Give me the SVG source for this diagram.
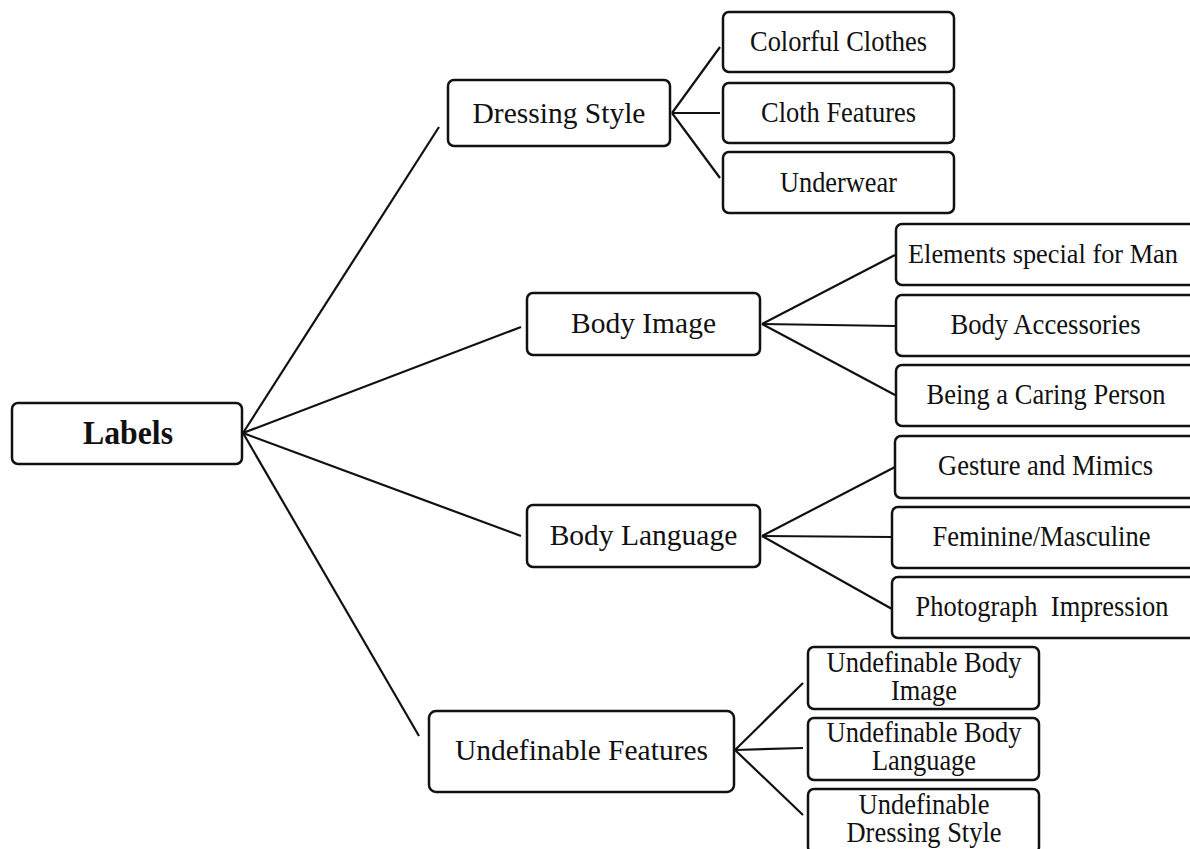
<svg xmlns="http://www.w3.org/2000/svg" width="1190" height="849" viewBox="0 0 1190 849">
<style>
.box{fill:#fff;stroke:#111;stroke-width:2.5}
.ln{stroke:#111;stroke-width:2.2;fill:none}
.t{font-family:"Liberation Serif","Times New Roman",serif;fill:#111;text-anchor:middle}
.p{font-size:29.5px}
.l{font-size:28.5px}
.root{font-size:34px;font-weight:bold}
</style>
<rect width="1190" height="849" fill="#fff"/>
<g id="connectors">
<line class="ln" x1="243" y1="433" x2="439" y2="127"/>
<line class="ln" x1="243" y1="433" x2="521" y2="327"/>
<line class="ln" x1="243" y1="433" x2="521" y2="536"/>
<line class="ln" x1="243" y1="433" x2="419" y2="736"/>
<line class="ln" x1="672" y1="113" x2="720" y2="47"/>
<line class="ln" x1="672" y1="113" x2="720" y2="113"/>
<line class="ln" x1="672" y1="113" x2="720" y2="178"/>
<line class="ln" x1="762" y1="324" x2="895" y2="255"/>
<line class="ln" x1="762" y1="324" x2="895" y2="326"/>
<line class="ln" x1="762" y1="324" x2="895" y2="395"/>
<line class="ln" x1="762" y1="536" x2="895" y2="467"/>
<line class="ln" x1="762" y1="536" x2="892" y2="537"/>
<line class="ln" x1="762" y1="536" x2="892" y2="609"/>
<line class="ln" x1="735" y1="750" x2="803" y2="683"/>
<line class="ln" x1="735" y1="750" x2="803" y2="748"/>
<line class="ln" x1="735" y1="750" x2="803" y2="815"/>
</g>
<g id="labels"><rect class="box" x="12" y="403" width="230" height="61" rx="6"/><text class="t root" x="128" y="444" textLength="90" lengthAdjust="spacingAndGlyphs">Labels</text></g>
<g id="dressing-style"><rect class="box" x="448" y="80" width="222" height="66" rx="6"/><text class="t p" x="559" y="122.5">Dressing Style</text></g>
<g id="colorful-clothes"><rect class="box" x="723" y="12" width="231" height="60" rx="6"/><text class="t l" x="838.5" y="51" textLength="177" lengthAdjust="spacingAndGlyphs">Colorful Clothes</text></g>
<g id="cloth-features"><rect class="box" x="723" y="83" width="231" height="60" rx="6"/><text class="t l" x="838.5" y="122" textLength="155" lengthAdjust="spacingAndGlyphs">Cloth Features</text></g>
<g id="underwear"><rect class="box" x="723" y="152" width="231" height="61" rx="6"/><text class="t l" x="838.5" y="192" textLength="117" lengthAdjust="spacingAndGlyphs">Underwear</text></g>
<g id="body-image"><rect class="box" x="527" y="293" width="233" height="62" rx="6"/><text class="t p" x="643.5" y="333">Body Image</text></g>
<g id="elements-special"><rect class="box" x="896" y="224" width="310" height="61" rx="6"/><text class="t" style="font-size:27px" x="1043" y="263" textLength="270" lengthAdjust="spacingAndGlyphs">Elements special for Man</text></g>
<g id="body-accessories"><rect class="box" x="896" y="295" width="310" height="61" rx="6"/><text class="t l" x="1045.5" y="334" textLength="190" lengthAdjust="spacingAndGlyphs">Body Accessories</text></g>
<g id="caring-person"><rect class="box" x="896" y="365" width="310" height="61" rx="6"/><text class="t l" x="1046" y="404" textLength="239" lengthAdjust="spacingAndGlyphs">Being a Caring Person</text></g>
<g id="body-language"><rect class="box" x="527" y="505" width="233" height="62" rx="6"/><text class="t p" x="643.5" y="545">Body Language</text></g>
<g id="gesture-mimics"><rect class="box" x="895" y="436" width="310" height="62" rx="6"/><text class="t l" x="1045.5" y="475" textLength="215" lengthAdjust="spacingAndGlyphs">Gesture and Mimics</text></g>
<g id="feminine-masculine"><rect class="box" x="892" y="507" width="310" height="61" rx="6"/><text class="t l" x="1041.5" y="546" textLength="218" lengthAdjust="spacingAndGlyphs">Feminine/Masculine</text></g>
<g id="photograph-impression"><rect class="box" x="892" y="577" width="310" height="61" rx="6"/><text class="t l" x="1042" y="616" xml:space="preserve" textLength="253" lengthAdjust="spacingAndGlyphs">Photograph  Impression</text></g>
<g id="undefinable-features"><rect class="box" x="429" y="711" width="305" height="81" rx="7"/><text class="t p" x="581.5" y="760">Undefinable Features</text></g>
<g id="undef-body-image"><rect class="box" x="808" y="647" width="231" height="62" rx="6"/><text class="t l" x="924" y="672" textLength="195" lengthAdjust="spacingAndGlyphs">Undefinable Body</text><text class="t l" x="924" y="700" textLength="66" lengthAdjust="spacingAndGlyphs">Image</text></g>
<g id="undef-body-language"><rect class="box" x="808" y="718" width="231" height="62" rx="6"/><text class="t l" x="924" y="742" textLength="195" lengthAdjust="spacingAndGlyphs">Undefinable Body</text><text class="t l" x="924" y="770" textLength="104" lengthAdjust="spacingAndGlyphs">Language</text></g>
<g id="undef-dressing-style"><rect class="box" x="808" y="789" width="231" height="64" rx="6"/><text class="t l" x="924" y="814" textLength="131" lengthAdjust="spacingAndGlyphs">Undefinable</text><text class="t l" x="924" y="842" textLength="155" lengthAdjust="spacingAndGlyphs">Dressing Style</text></g>
</svg>
